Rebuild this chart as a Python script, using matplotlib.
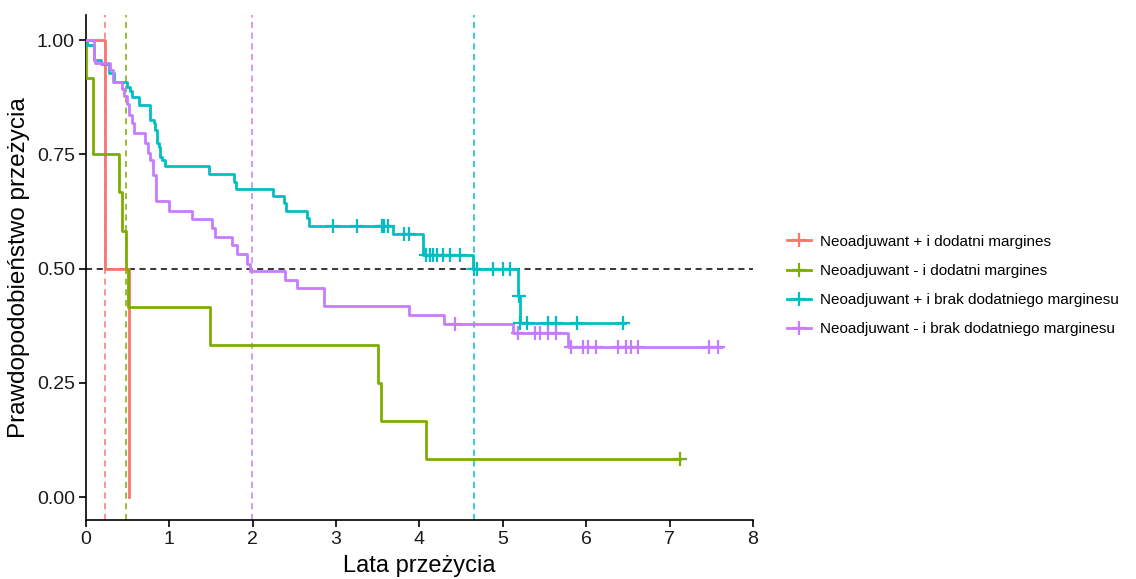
import numpy as np
import matplotlib.pyplot as plt
from matplotlib.lines import Line2D

plt.rcParams['font.family'] = ['Liberation Sans', 'DejaVu Sans']

group_names = [
    'Neoadjuwant + i dodatni margines',
    'Neoadjuwant - i dodatni margines',
    'Neoadjuwant + i brak dodatniego marginesu',
    'Neoadjuwant - i brak dodatniego marginesu',
]
group_colors = ['#F8766D', '#7CAE00', '#00BFC4', '#C77CFF']

# step times (years) and survival after each step
red_times = [0.225, 0.515]
red_surv = [0.5, 0.0]
red_end = 0.515
red_censor = []

green_times = [0.0, 0.08, 0.39, 0.43, 0.48, 0.50, 1.49, 3.50, 3.54, 4.08]
green_surv = [0.917, 0.75, 0.667, 0.583, 0.5, 0.417, 0.333, 0.25, 0.167, 0.083]
green_end = 7.13
green_censor = [7.13]

teal_times = [0.015, 0.09, 0.18, 0.27, 0.33, 0.49, 0.53, 0.55, 0.64, 0.77,
              0.81, 0.83, 0.85, 0.87, 0.89, 0.91, 0.95, 1.48, 1.77, 1.80,
              2.24, 2.38, 2.40, 2.65, 2.68, 3.68, 4.04, 4.64, 5.18, 5.20]
teal_surv = [0.989, 0.956, 0.947, 0.927, 0.909, 0.898, 0.889, 0.876, 0.858, 0.825,
             0.818, 0.803, 0.774, 0.766, 0.745, 0.737, 0.725, 0.708, 0.690, 0.675,
             0.659, 0.643, 0.626, 0.610, 0.594, 0.575, 0.530, 0.500, 0.440, 0.380]
teal_end = 6.46
teal_censor = [2.96, 3.25, 3.55, 3.58, 3.62, 3.81, 3.88, 4.08, 4.12, 4.16, 4.21,
               4.28, 4.37, 4.48, 4.65, 4.69, 4.88, 5.00, 5.08, 5.19, 5.21, 5.29,
               5.54, 5.64, 5.89, 6.44]

purple_times = [0.09, 0.11, 0.29, 0.32, 0.43, 0.46, 0.49, 0.52, 0.55, 0.57,
                0.71, 0.74, 0.77, 0.80, 0.84, 1.00, 1.27, 1.51, 1.55, 1.75,
                1.81, 1.93, 1.97, 2.39, 2.53, 2.85, 3.88, 4.29, 5.12, 5.78]
purple_surv = [0.956, 0.949, 0.934, 0.909, 0.894, 0.877, 0.861, 0.836, 0.818, 0.796,
               0.774, 0.752, 0.737, 0.705, 0.648, 0.626, 0.608, 0.590, 0.570, 0.551,
               0.533, 0.511, 0.495, 0.475, 0.457, 0.418, 0.398, 0.379, 0.359, 0.329]
purple_end = 7.62
purple_censor = [4.42, 5.18, 5.38, 5.44, 5.54, 5.64, 5.82, 5.96, 6.02, 6.12,
                 6.38, 6.48, 6.54, 6.62, 7.47, 7.58]

median_times = [0.225, 0.48, 4.65, 1.99]

curves = [
    (red_times, red_surv, red_end, red_censor),
    (green_times, green_surv, green_end, green_censor),
    (teal_times, teal_surv, teal_end, teal_censor),
    (purple_times, purple_surv, purple_end, purple_censor),
]

fig = plt.figure(figsize=(11.36, 5.79), dpi=100)
ax = fig.add_axes([86 / 1136, 1 - 520 / 579, (753 - 86) / 1136, (520 - 15) / 579])

# median lines
ax.axhline(0.5, color='black', ls=(0, (4, 3)), lw=1.1, zorder=1)
for m, col in zip(median_times, group_colors):
    ax.axvline(m, color=col, ls=(0, (4, 3)), lw=1.1, zorder=1)

for (times, surv, end, cens), col in zip(curves, group_colors):
    t = np.array([0.0] + list(times) + [end])
    s = np.array([1.0] + list(surv) + [surv[-1]])
    ax.step(t, s, where='post', color=col, lw=2.0, zorder=3)
    if cens:
        c = np.array(cens)
        idx = np.searchsorted(t, c, side='right') - 1
        ax.plot(c, s[idx], ls='none', marker='+', color=col,
                markersize=10, mew=1.6, zorder=4)

ax.set_xlim(0, 8)
ax.set_ylim(-0.05, 1.055)
ax.set_xticks(range(0, 9))
ax.set_yticks([0, 0.25, 0.5, 0.75, 1.0])
ax.set_yticklabels(['0.00', '0.25', '0.50', '0.75', '1.00'])
ax.spines['top'].set_visible(False)
ax.spines['right'].set_visible(False)
for sp in ['left', 'bottom']:
    ax.spines[sp].set_linewidth(1.2)
ax.tick_params(direction='out', length=5, width=1.2, labelsize=14,
               labelcolor='#1a1a1a', pad=3)
ax.set_xlabel('Lata przeżycia', fontsize=17, labelpad=5)
ax.set_ylabel('Prawdopodobieństwo przeżycia', fontsize=17.5, labelpad=5)

handles = [Line2D([], [], color=c, lw=2.0, marker='+', markersize=10, mew=1.6)
           for c in group_colors]
fig.legend(handles, group_names, loc='center left',
           bbox_to_anchor=(773 / 1136, 1 - 285.5 / 579), frameon=False,
           fontsize=11, handlelength=1.6, handletextpad=0.6, labelspacing=1.0)

fig.savefig('out.png', dpi=100)
